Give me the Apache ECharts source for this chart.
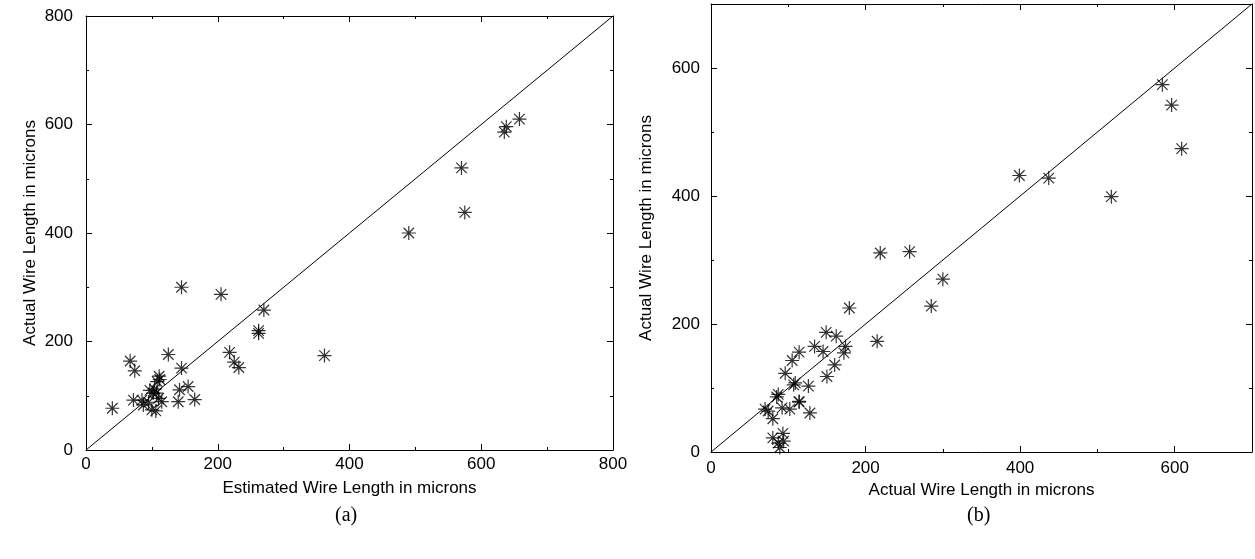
<!DOCTYPE html>
<html>
<head>
<meta charset="utf-8">
<script src="https://cdn.jsdelivr.net/npm/echarts@6/dist/echarts.min.js"></script>
<style>
  html, body { margin: 0; padding: 0; background: #fff; }
  #chart { width: 1255px; height: 559px; }
</style>
</head>
<body>
<div id="chart"></div>
<script>
// (a) estimated vs actual wire length, per net (microns)
const estimatedA = [40, 67, 74, 72, 85, 87, 100, 106, 102, 107, 104, 108, 111, 97, 110, 115, 125, 140, 142, 145, 155, 165, 145, 205, 218, 225, 232, 262, 262, 270, 362, 490, 570, 575, 635, 638, 658, 95, 112];
const actualA    = [77, 164, 146, 92, 92, 83, 74, 72, 105, 105, 112, 126, 136, 110, 95, 89, 176, 89, 111, 151, 117, 93, 300, 287, 180, 162, 152, 220, 215, 258, 174, 400, 520, 438, 586, 596, 610, 88, 130];

// (b) actual wire length compared on both axes
const actualBx = [609, 596, 584, 518, 437, 399, 300, 285, 257, 219, 215, 179, 174, 172, 162, 160, 150, 149, 145, 134, 128, 126, 114, 114, 109, 107, 105, 102, 96, 93, 92, 89, 87, 87, 85, 80, 80, 74, 70, 94, 114];
const actualBy = [474, 542, 574, 399, 428, 432, 270, 228, 313, 311, 173, 225, 165, 155, 181, 136, 118, 187, 157, 165, 61, 103, 156, 79, 108, 105, 143, 67, 123, 29, 69, 7, 90, 14, 86, 52, 22, 64, 67, 17, 78];

const axisMaxA = 800;
const axisMaxB = 700;
const xTitleA = 'Estimated Wire Length in microns';
const yTitle = 'Actual Wire Length in microns';
const captions = ['(a)', '(b)'];

const FONT = 'Liberation Sans, Arial, sans-serif';
const STAR = 'path://M0 -10 L0 10 M-10 0 L10 0 M-7.5 -7.5 L7.5 7.5 M-7.5 7.5 L7.5 -7.5';

function zip(a, b) { return a.map((v, i) => [v, b[i]]); }

// Each side of a frame gets a major axis (line, long ticks, labels) and a minor one (short ticks).
function sideAxes(grid, pos, max, opts) {
  const labelled = opts && opts.labels;
  const major = {
    gridIndex: grid, type: 'value', position: pos, min: 0, max: max, interval: 200,
    axisLine: { show: true, onZero: false, lineStyle: { color: '#000', width: 1 } },
    axisTick: { show: true, inside: true, length: 6, lineStyle: { color: '#000', width: 1 } },
    axisLabel: {
      show: !!labelled, color: '#000', fontFamily: FONT, fontSize: 17,
      margin: opts && opts.margin != null ? opts.margin : 6,
      formatter: v => (v % 200 === 0 ? String(v) : '')
    },
    splitLine: { show: false }
  };
  if (opts && opts.name) {
    major.name = opts.name;
    major.nameLocation = 'middle';
    major.nameGap = opts.nameGap;
    major.nameTextStyle = { color: '#000', fontFamily: FONT, fontSize: 17 };
  }
  const minor = {
    gridIndex: grid, type: 'value', position: pos, min: 0, max: max, interval: 100,
    axisLine: { show: false, onZero: false },
    axisTick: { show: true, inside: true, length: 3, lineStyle: { color: '#000', width: 1 } },
    axisLabel: { show: false },
    splitLine: { show: false }
  };
  return [major, minor];
}

const xAxes = [
  ...sideAxes(0, 'bottom', axisMaxA, { labels: true, name: xTitleA, nameGap: 30, margin: 6 }), // 0,1
  ...sideAxes(0, 'top', axisMaxA),                                                             // 2,3
  ...sideAxes(1, 'bottom', axisMaxB, { labels: true, name: yTitle, nameGap: 30, margin: 8 }),  // 4,5
  ...sideAxes(1, 'top', axisMaxB)                                                              // 6,7
];
const yAxes = [
  ...sideAxes(0, 'left', axisMaxA, { labels: true, name: yTitle, nameGap: 47, margin: 13 }),   // 0,1
  ...sideAxes(0, 'right', axisMaxA),                                                           // 2,3
  ...sideAxes(1, 'left', axisMaxB, { labels: true, name: yTitle, nameGap: 56, margin: 11 }),   // 4,5
  ...sideAxes(1, 'right', axisMaxB)                                                            // 6,7
];

const starStyle = { color: 'transparent', borderColor: '#000', borderWidth: 1.2 };

const option = {
  backgroundColor: '#fff',
  animation: false,
  grid: [
    { left: 86, top: 16, width: 527, height: 434 },
    { left: 711, top: 4, width: 541, height: 448 }
  ],
  xAxis: xAxes,
  yAxis: yAxes,
  graphic: [
    { type: 'text', left: 349 - 14, top: 506, style: { text: captions[0], font: '20px "Liberation Serif", serif', fill: '#000' } },
    { type: 'text', left: 981 - 14, top: 506, style: { text: captions[1], font: '20px "Liberation Serif", serif', fill: '#000' } }
  ],
  series: [
    {
      type: 'line', xAxisIndex: 0, yAxisIndex: 0, data: [[0, 0], [axisMaxA, axisMaxA]],
      showSymbol: false, symbol: 'none', lineStyle: { color: '#000', width: 1 }, silent: true
    },
    {
      type: 'scatter', xAxisIndex: 0, yAxisIndex: 0, data: zip(estimatedA, actualA),
      symbol: STAR, symbolSize: 14, itemStyle: starStyle
    },
    {
      type: 'line', xAxisIndex: 4, yAxisIndex: 4, data: [[0, 0], [axisMaxB, axisMaxB]],
      showSymbol: false, symbol: 'none', lineStyle: { color: '#000', width: 1 }, silent: true
    },
    {
      type: 'scatter', xAxisIndex: 4, yAxisIndex: 4, data: zip(actualBx, actualBy),
      symbol: STAR, symbolSize: 14, itemStyle: starStyle
    }
  ]
};

const chart = echarts.init(document.getElementById('chart'), null, { renderer: 'canvas' });
chart.setOption(option);
</script>
</body>
</html>
